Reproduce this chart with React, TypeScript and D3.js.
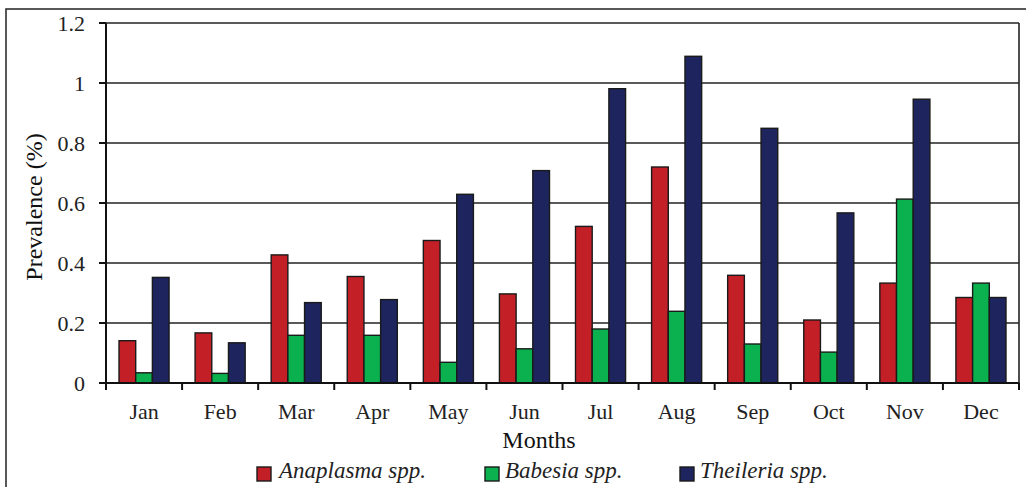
import React from 'react';
import * as d3 from 'd3';

const months = ['Jan', 'Feb', 'Mar', 'Apr', 'May', 'Jun', 'Jul', 'Aug', 'Sep', 'Oct', 'Nov', 'Dec'];
const seriesNames = ['Anaplasma spp.', 'Babesia spp.', 'Theileria spp.'];
const seriesColors = ['#C22026', '#0AB14E', '#1E255E'];

const anaplasma = [0.141, 0.167, 0.427, 0.355, 0.475, 0.297, 0.522, 0.72, 0.359, 0.21, 0.333, 0.285];
const babesia = [0.034, 0.032, 0.159, 0.159, 0.069, 0.114, 0.18, 0.239, 0.13, 0.103, 0.613, 0.333];
const theileria = [0.352, 0.134, 0.268, 0.278, 0.629, 0.708, 0.981, 1.089, 0.849, 0.567, 0.946, 0.285];

const yTicks = [0, 0.2, 0.4, 0.6, 0.8, 1, 1.2];

export default function App() {
  const width = 1026;
  const height = 487;
  const left = 106;
  const right = 1019;
  const top = 23;
  const bottom = 383;
  const font = '"Liberation Serif", "Times New Roman", serif';

  const values = [anaplasma, babesia, theileria];

  const x = d3.scaleBand().domain(months).range([left, right]).padding(0);
  const bw = x.bandwidth();
  const inner = d3
    .scaleBand()
    .domain(seriesNames)
    .range([bw * 0.171, bw * 0.829])
    .padding(0);

  const y = d3.scaleLinear().domain([0, 1.2]).range([bottom, top]);

  const fmt = (v) => (v === 0 || v === 1 ? String(v) : d3.format('.1f')(v));

  const legendItems = [
    { name: seriesNames[0], sx: 257, tx: 279 },
    { name: seriesNames[1], sx: 485, tx: 505 },
    { name: seriesNames[2], sx: 680, tx: 700 },
  ];

  return (
    <svg
      width={width}
      height={height}
      style={{ position: 'absolute', left: 0, top: 0, fontFamily: font }}
    >
      <rect x={0} y={0} width={width} height={height} fill="white" />
      {/* outer frame */}
      <rect x={6} y={9} width={1040} height={500} fill="none" stroke="#222" strokeWidth={1.5} />

      {/* gridlines */}
      <g>
        {yTicks.filter((t) => t > 0).map((t) => (
          <line key={`grid-${t}`} x1={left} x2={right} y1={y(t)} y2={y(t)} stroke="#222" strokeWidth={1.6} />
        ))}
      </g>
      <line x1={right} x2={right} y1={top} y2={bottom} stroke="#222" strokeWidth={1.6} />

      {/* bars */}
      <g>
        {months.map((m, i) => (
          <g key={`grp-${m}`} transform={`translate(${x(m)},0)`}>
            {seriesNames.map((s, j) => (
              <rect
                key={`bar-${m}-${s}`}
                x={inner(s)}
                y={y(values[j][i])}
                width={inner.bandwidth()}
                height={bottom - y(values[j][i])}
                fill={seriesColors[j]}
                stroke="#1a1a1a"
                strokeWidth={1.4}
              />
            ))}
          </g>
        ))}
      </g>

      {/* y axis */}
      <line x1={left} x2={left} y1={top} y2={bottom + 7} stroke="#111" strokeWidth={2} />
      {yTicks.map((t) => (
        <g key={`yt-${t}`}>
          <line x1={left - 7} x2={left} y1={y(t)} y2={y(t)} stroke="#111" strokeWidth={2} />
          <text x={85} y={y(t)} dy="0.35em" textAnchor="end" fontSize={22} fill="#222">
            {fmt(t)}
          </text>
        </g>
      ))}

      {/* x axis */}
      <line x1={left} x2={right} y1={bottom} y2={bottom} stroke="#111" strokeWidth={2} />
      {months.map((m) => (
        <line key={`xt-${m}`} x1={x(m)} x2={x(m)} y1={bottom} y2={bottom + 7} stroke="#111" strokeWidth={2} />
      ))}
      <line x1={right} x2={right} y1={bottom} y2={bottom + 7} stroke="#111" strokeWidth={2} />
      {months.map((m) => (
        <text key={`xl-${m}`} x={x(m) + bw / 2} y={419} textAnchor="middle" fontSize={22} fill="#222">
          {m}
        </text>
      ))}

      {/* axis titles */}
      <text x={539} y={448} textAnchor="middle" fontSize={24} fill="#111">
        Months
      </text>
      <text
        transform={`translate(42,207) rotate(-90)`}
        textAnchor="middle"
        fontSize={24}
        fill="#111"
      >
        Prevalence (%)
      </text>

      {/* legend */}
      {legendItems.map((d, i) => (
        <g key={`lg-${i}`}>
          <rect x={d.sx} y={467} width={14} height={14} fill={seriesColors[i]} stroke="#1a1a1a" strokeWidth={1.4} />
          <text x={d.tx} y={478} fontSize={23} fontStyle="italic" fill="#222">
            {d.name}
          </text>
        </g>
      ))}
    </svg>
  );
}
